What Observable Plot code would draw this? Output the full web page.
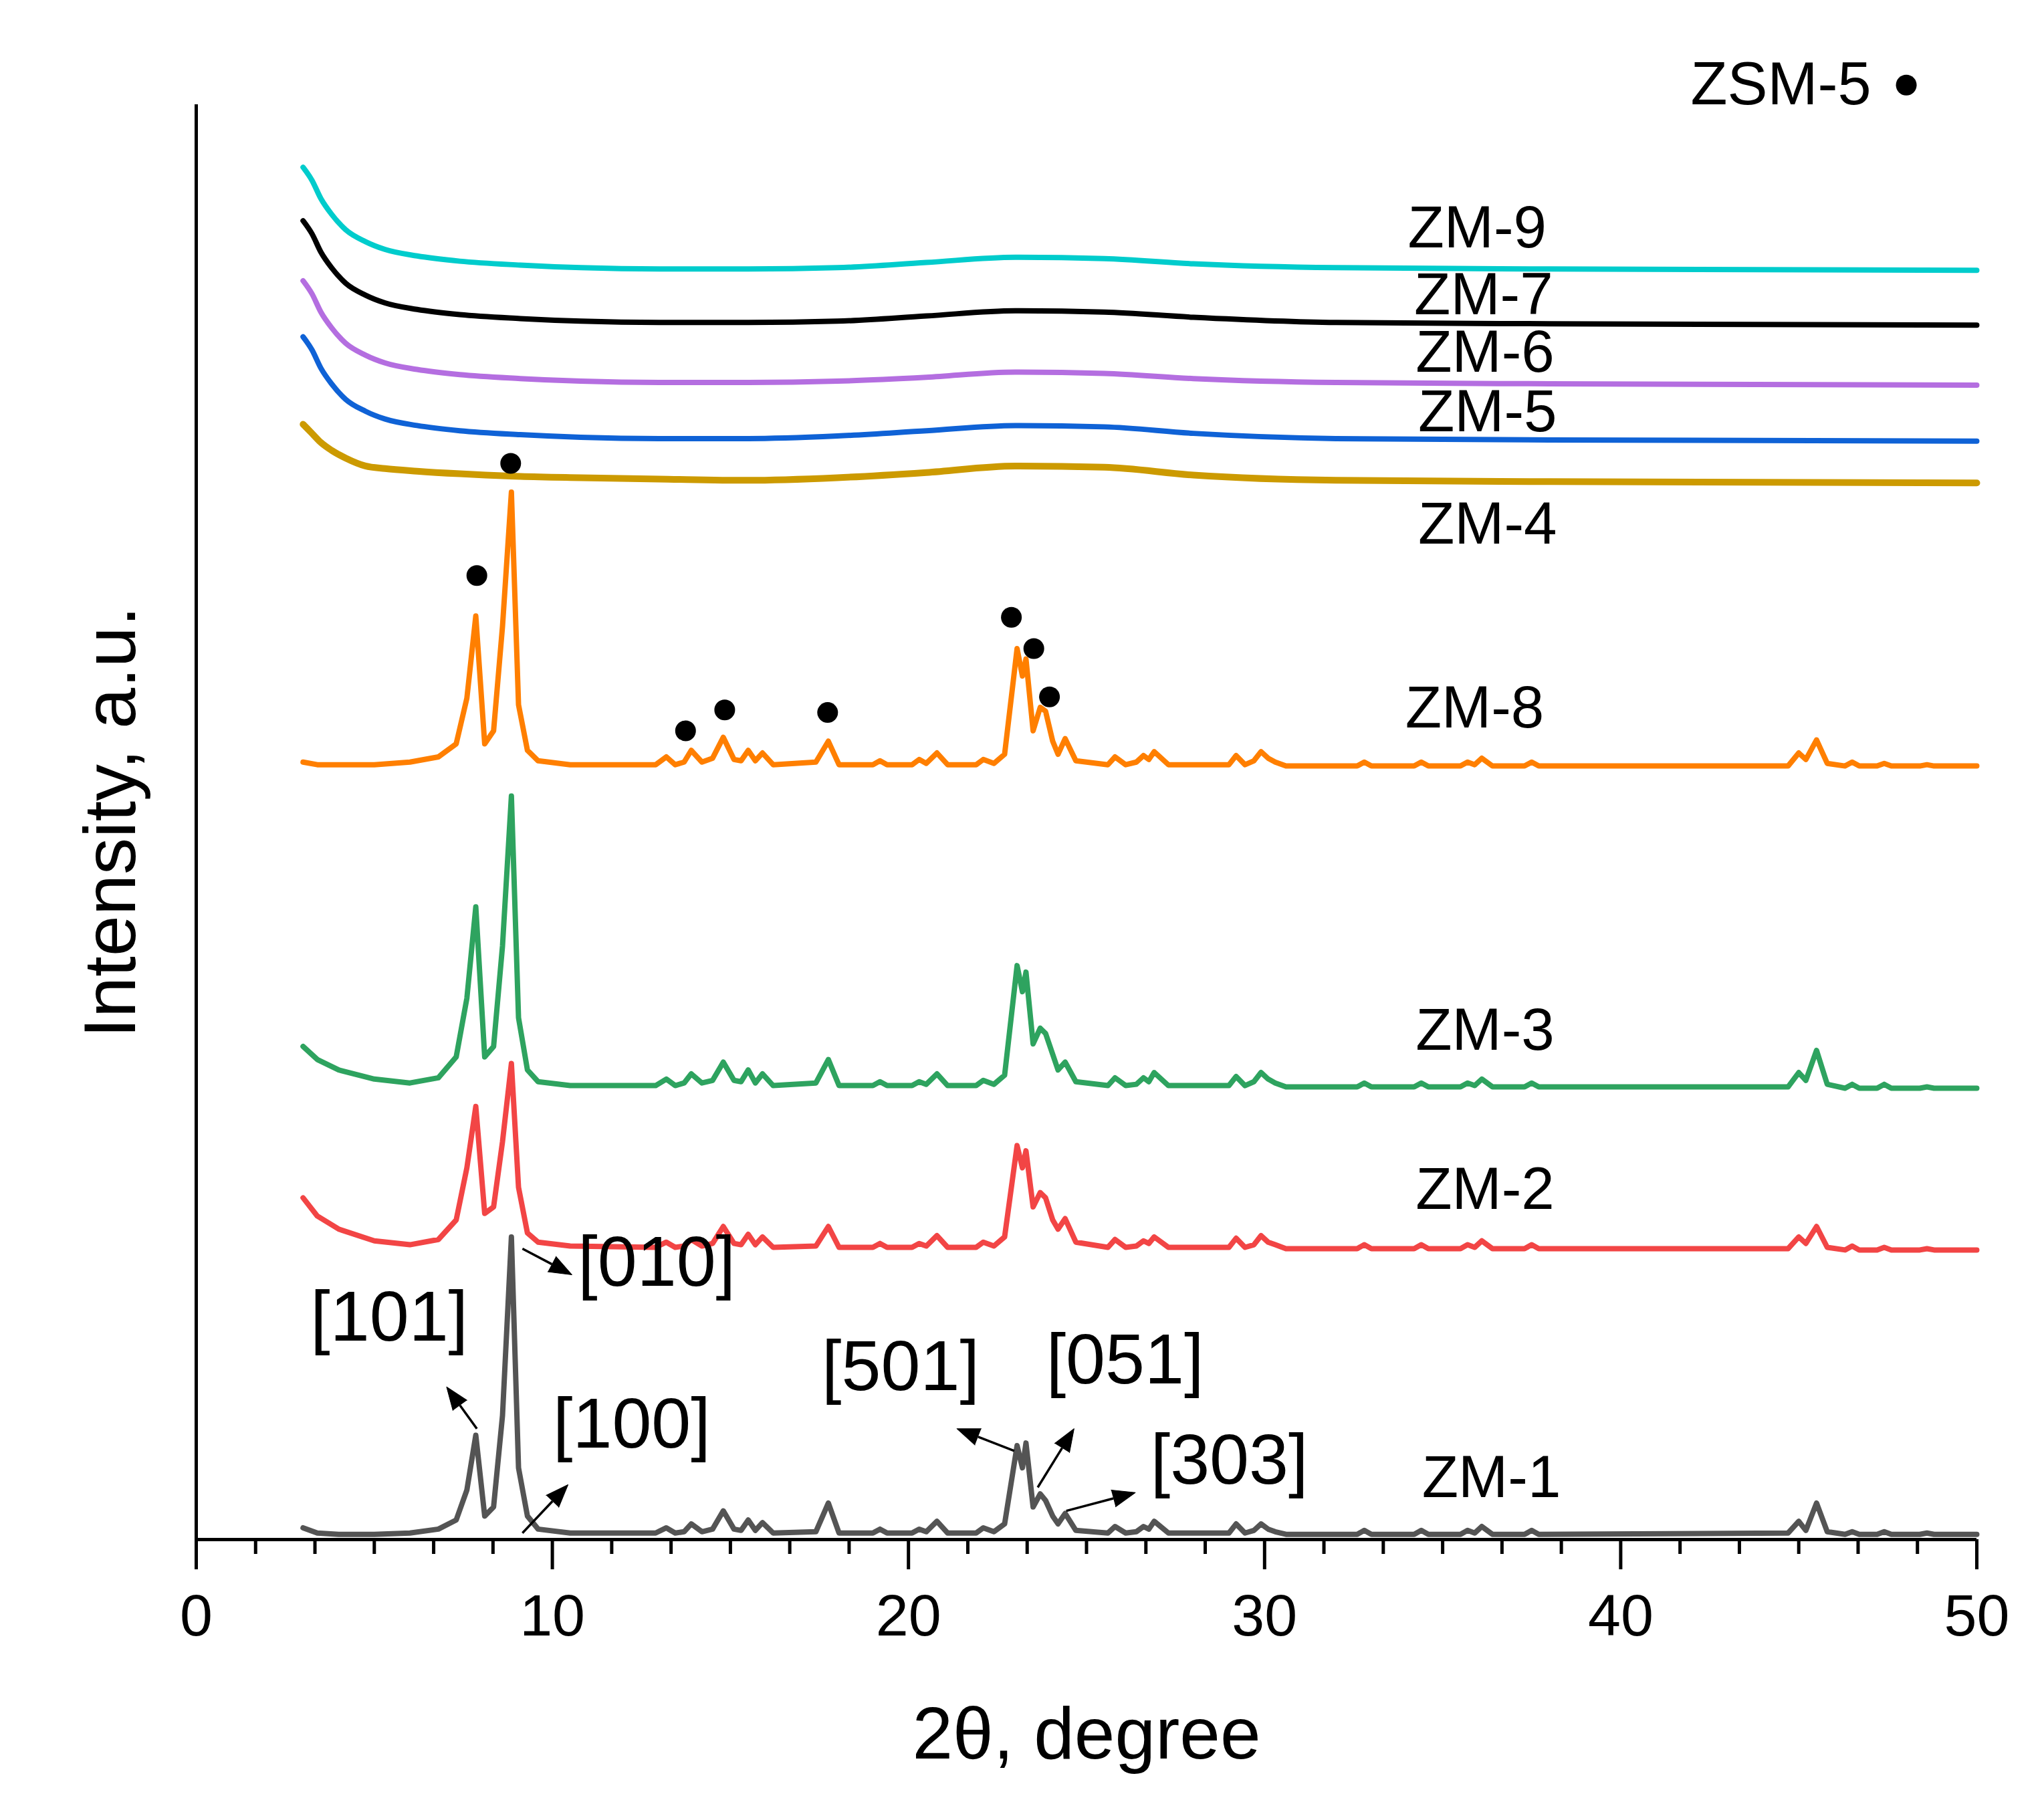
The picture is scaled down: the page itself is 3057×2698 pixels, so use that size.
<!DOCTYPE html>
<html><head><meta charset="utf-8">
<script src="https://cdn.jsdelivr.net/npm/d3@7"></script>
<script src="https://cdn.jsdelivr.net/npm/@observablehq/plot@0.6"></script>
<style>html,body{margin:0;padding:0;background:#fff;} svg{display:block}</style>
</head><body><div id="chart"></div>
<script>
// ---- crystalline patterns (2θ grid shared by ZM-1, ZM-2, ZM-3, ZM-8) ----
const theta = [
  3.0, 3.4, 4.0, 5.0, 6.0, 6.8, 7.3, 7.6, 7.85, 8.1, 8.35, 8.6, 8.85, 9.05, 9.3, 9.6, 10.5,
  12.9, 13.2, 13.45, 13.7, 13.9, 14.2, 14.5, 14.8, 15.1, 15.3, 15.5, 15.7, 15.9, 16.2,
  17.4, 17.75, 18.05, 19.0, 19.2, 19.4, 20.1, 20.3, 20.5, 20.8, 21.1, 21.9, 22.1, 22.4, 22.7,
  23.05, 23.2, 23.3, 23.5, 23.7, 23.85, 24.05, 24.2, 24.4, 24.7, 25.6, 25.8, 26.1, 26.4, 26.6, 26.75, 26.9, 27.3,
  29.0, 29.2, 29.45, 29.7, 29.9, 30.1, 30.3, 30.6, 32.6, 32.8, 33.0, 34.2, 34.4, 34.6, 35.5, 35.7, 35.9, 36.1, 36.4, 37.3, 37.5, 37.7,
  44.7, 45.0, 45.2, 45.5, 45.8, 46.3, 46.5, 46.7, 47.2, 47.4, 47.6, 48.4, 48.6, 48.8, 50.0
];
const zm1 = [
  9, 5, 4, 4, 5, 8, 15, 38, 80, 18, 25, 95, 232, 55, 18, 8, 5,
  5, 9, 5, 6, 12, 6, 8, 22, 8, 7, 15, 7, 13, 5,
  6, 28, 5, 5, 8, 5, 5, 8, 6, 14, 5, 5, 9, 6, 12,
  72, 55, 74, 25, 35, 30, 18, 12, 20, 7, 5, 10, 5, 6, 10, 8, 14, 5,
  5, 12, 5, 7, 12, 8, 6, 4, 4, 7, 4, 4, 7, 4, 4, 7, 5, 10, 4, 4, 7, 4,
  5, 14, 7, 28, 6, 4, 6, 4, 4, 6, 4, 4, 5, 4, 4
];
const zm2 = [
  262, 248, 238, 229, 226, 230, 245, 285, 332, 250, 255, 305, 365, 270, 235, 228, 225,
  224, 228, 224, 225, 230, 225, 227, 240, 227, 226, 234, 226, 232, 224,
  225, 240, 224, 224, 227, 224, 224, 227, 225, 233, 224, 224, 228, 225, 232,
  302, 285, 298, 255, 266, 262, 245, 238, 246, 228, 224, 230, 224, 225, 229, 227, 232, 224,
  224, 231, 224, 226, 233, 228, 226, 223, 223, 226, 223, 223, 226, 223, 223, 226, 224, 229, 223, 223, 226, 223,
  223, 232, 227, 240, 224, 222, 225, 222, 222, 224, 222, 222, 223, 222, 222
];
const zm3 = [
  378, 368, 360, 353, 350, 354, 370, 415, 485, 370, 378, 455, 570, 400, 360, 351, 348,
  348, 353, 348, 350, 357, 350, 352, 366, 352, 351, 360, 350, 357, 348,
  350, 368, 348, 348, 351, 348, 348, 351, 349, 357, 348, 348, 352, 349, 356,
  440, 420, 435, 380, 392, 388, 372, 360, 366, 351, 348, 354, 348, 349, 354, 351, 358, 348,
  348, 355, 348, 351, 358, 353, 350, 347, 347, 350, 347, 347, 350, 347, 347, 350, 348, 353, 347, 347, 350, 347,
  347, 358, 352, 375, 349, 346, 349, 346, 346, 349, 346, 346, 347, 346, 346
];
const zm8 = [
  596, 594, 594, 594, 596, 600, 610, 645, 708, 610, 620, 700, 803, 640, 605, 597, 594,
  594, 600, 594, 596, 605, 596, 599, 615, 598, 597, 605, 597, 603, 594,
  596, 612, 594, 594, 597, 594, 594, 598, 595, 603, 594, 594, 598, 595, 602,
  683, 662, 675, 620, 638, 635, 612, 602, 614, 597, 594, 600, 594, 596, 601, 598, 604, 594,
  594, 601, 594, 597, 604, 599, 596, 593, 593, 596, 593, 593, 596, 593, 593, 596, 594, 599, 593, 593, 596, 593,
  593, 603, 598, 613, 595, 593, 596, 593, 593, 595, 593, 593, 594, 593, 593
];

// ---- amorphous patterns (smooth) ----
const thetaAm = [3.0, 3.25, 3.5, 3.8, 4.2, 4.75, 5.3, 6.2, 7.4, 9.1, 10.8, 13.0, 15.5, 18.0, 20.5, 23.0, 25.5, 28.0, 32.0, 38.0, 50.0];
const zm4 = [855, 848, 841, 835, 829, 823, 821, 819, 817, 815, 814, 813, 812, 814, 818, 823, 822, 816, 812, 811, 810];
const zm5 = [922, 912, 898, 886, 874, 865, 859, 854, 850, 847, 845, 844, 844, 846, 850, 854, 853, 848, 844, 843, 842];
const zm6 = [965, 955, 941, 929, 917, 908, 902, 897, 893, 890, 888, 887, 887, 888, 891, 895, 894, 890, 887, 886, 885];
const zm7 = [1011, 1001, 987, 975, 963, 954, 948, 943, 939, 936, 934, 933, 933, 934, 938, 942, 941, 937, 933, 932, 931];
const zm9 = [1052, 1042, 1028, 1016, 1004, 995, 989, 984, 980, 977, 975, 974, 974, 975, 979, 983, 982, 978, 975, 974, 973];

// ---- series labels ----
const seriesNames = ["ZM-1", "ZM-2", "ZM-3", "ZM-8", "ZM-4", "ZM-5", "ZM-6", "ZM-7", "ZM-9"];
const seriesLabelX = [36.37, 36.19, 36.19, 35.9, 36.26, 36.26, 36.19, 36.15, 35.97];
const seriesLabelY = [47, 268, 390, 637, 778, 864, 910, 954, 1005];

// ---- ZSM-5 reflection markers ----
const zsmTheta = [8.83, 7.88, 13.74, 14.84, 17.73, 22.89, 23.52, 23.96];
const zsmI = [825, 739, 620, 636, 634, 707, 683, 646];

// ---- hkl annotations on ZM-1 ----
const hklText = ["[101]", "[010]", "[100]", "[501]", "[051]", "[303]"];
const hklX = [5.42, 12.93, 12.23, 19.78, 26.08, 29.01];
const hklY = [170, 212, 88, 132, 137, 60];
const arrowX1 = [7.88, 9.16, 9.16, 22.97, 23.63, 24.43];
const arrowY1 = [85, 223, 5, 68, 40, 22];
const arrowX2 = [7.03, 10.55, 10.44, 21.36, 24.65, 26.37];
const arrowY2 = [117, 203, 42, 85, 85, 36];

const majorTicks = [0, 10, 20, 30, 40, 50];
const minorTicks = d3.range(0, 50.001, 10 / 6).filter(t => Math.abs(t / 10 - Math.round(t / 10)) > 1e-6);

const colors = {
  "ZM-1": "#545454", "ZM-2": "#f24545", "ZM-3": "#2ea35f", "ZM-8": "#ff7f00",
  "ZM-4": "#cc9a00", "ZM-5": "#0f62d6", "ZM-6": "#b46ee0", "ZM-7": "#000000", "ZM-9": "#00cccc"
};

// layout
const W = 3057, H = 2698, ML = 293, MR = 101, MT = 156, MB = 396;
const X_DOMAIN = [0, 50], Y_DOMAIN = [0, 1100];
const xs = d3.scaleLinear(X_DOMAIN, [ML, W - MR]);
const ys = d3.scaleLinear(Y_DOMAIN, [H - MB, MT]);

// arrow geometry: shaft + filled spike head (computed in screen space)
const HEAD_LEN = 34, HEAD_R = 13;
const arrowRows = hklText.map((n, i) => {
  const px1 = xs(arrowX1[i]), py1 = ys(arrowY1[i]), px2 = xs(arrowX2[i]), py2 = ys(arrowY2[i]);
  const dx = px2 - px1, dy = py2 - py1, len = Math.hypot(dx, dy);
  const ux = dx / len, uy = dy / len;
  const bx = px2 - ux * HEAD_LEN, by = py2 - uy * HEAD_LEN;
  return {x1: arrowX1[i], y1: arrowY1[i], bx: xs.invert(bx), by: ys.invert(by),
          angle: Math.atan2(ux, -uy) * 180 / Math.PI};
});

const toRows = (xv, yv) => yv.map((v, i) => ({t: xv[i], I: v}));
const crystal = [["ZM-1", zm1], ["ZM-2", zm2], ["ZM-3", zm3], ["ZM-8", zm8]];
const amorph = [["ZM-4", zm4], ["ZM-5", zm5], ["ZM-6", zm6], ["ZM-7", zm7], ["ZM-9", zm9]];

const FONT = "Liberation Sans, Arial, Helvetica, sans-serif";

const marks = [];
for (const [name, vals] of crystal) {
  marks.push(Plot.line(toRows(theta, vals), {x: "t", y: "I", stroke: colors[name], strokeWidth: 8, curve: "linear", strokeLinejoin: "round"}));
}
for (const [name, vals] of amorph) {
  marks.push(Plot.line(toRows(thetaAm, vals), {x: "t", y: "I", stroke: colors[name], strokeWidth: name === "ZM-4" ? 10 : 8, curve: "monotone-x"}));
}

const labelRows = seriesNames.map((n, i) => ({n, x: seriesLabelX[i], y: seriesLabelY[i]}));
const hklRows = hklText.map((n, i) => ({n, x: hklX[i], y: hklY[i]}));
const dotRows = zsmTheta.map((t, i) => ({t, I: zsmI[i]}));

marks.push(
  Plot.ruleY([0], {stroke: "#000", strokeWidth: 5}),
  Plot.ruleX([0], {stroke: "#000", strokeWidth: 5}),
  Plot.axisX({ticks: minorTicks, tickSize: 22, strokeWidth: 5, tickFormat: () => "", label: null}),
  Plot.axisX({ticks: majorTicks, tickSize: 45, strokeWidth: 5, tickPadding: 36, fontSize: 88, fill: "#000", label: null, tickFormat: d => String(d)}),
  Plot.text(labelRows, {x: "x", y: "y", text: "n", fontSize: 89, fill: "#000", textAnchor: "middle", lineAnchor: "middle"}),
  Plot.text(hklRows, {x: "x", y: "y", text: "n", fontSize: 106, fill: "#000", textAnchor: "middle", lineAnchor: "middle"}),
  Plot.link(arrowRows, {x1: "x1", y1: "y1", x2: "bx", y2: "by", stroke: "#000", strokeWidth: 3.5}),
  Plot.vector(arrowRows, {x: "bx", y: "by", rotate: "angle", length: HEAD_LEN, shape: "spike", r: HEAD_R, anchor: "start", fill: "#000", stroke: "#000", strokeWidth: 1}),
  Plot.dot(dotRows, {x: "t", y: "I", r: 15.5, fill: "#000", stroke: "none"}),
  Plot.text(["ZSM-5"], {x: 44.5, y: 1115, text: d => d, fontSize: 90, fill: "#000", textAnchor: "middle", lineAnchor: "middle"}),
  Plot.dot([0], {x: 48.02, y: 1115, r: 15.5, fill: "#000", stroke: "none"}),
  Plot.text(["2θ, degree"], {frameAnchor: "bottom", dy: 293, text: d => d, fontSize: 109, fill: "#000", textAnchor: "middle", lineAnchor: "middle"}),
  Plot.text(["Intensity, a.u."], {frameAnchor: "left", dx: -127, rotate: -90, text: d => d, fontSize: 110, fill: "#000", textAnchor: "middle", lineAnchor: "middle"})
);

const chart = Plot.plot({
  width: W,
  height: H,
  marginLeft: ML,
  marginRight: MR,
  marginTop: MT,
  marginBottom: MB,
  style: {fontFamily: FONT, background: "#fff", overflow: "visible"},
  x: {domain: X_DOMAIN, axis: null},
  y: {domain: Y_DOMAIN, axis: null},
  marks
});
document.getElementById("chart").appendChild(chart);
</script>
</body></html>
